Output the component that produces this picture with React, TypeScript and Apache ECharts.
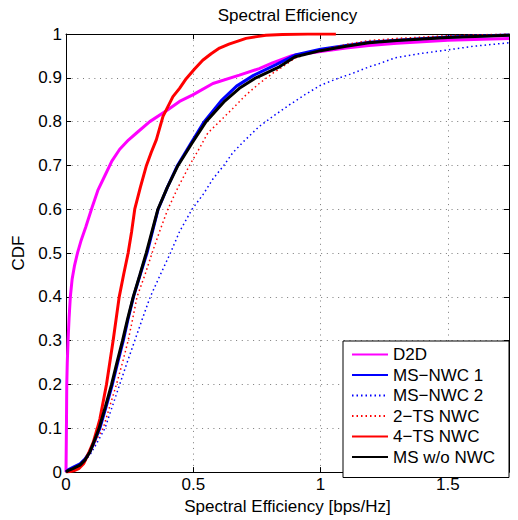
import React, { useEffect, useRef } from "react";
import * as echarts from "echarts";

// ---- Data ----
const seriesNames = ["D2D", "MS\u2212NWC 1", "MS\u2212NWC 2", "2\u2212TS NWC", "4\u2212TS NWC", "MS w/o NWC"];

const d2dX = [0, 0.002, 0.003, 0.005, 0.008, 0.012, 0.017, 0.024, 0.033, 0.045, 0.06, 0.078, 0.1, 0.125, 0.153, 0.18, 0.211, 0.245, 0.277, 0.329, 0.4, 0.446, 0.498, 0.577, 0.681, 0.759, 0.811, 0.89, 1.0, 1.1, 1.19, 1.3, 1.5, 1.74];
const d2dY = [0, 0.12, 0.2, 0.25, 0.3, 0.35, 0.4, 0.44, 0.47, 0.5, 0.53, 0.56, 0.6, 0.643, 0.677, 0.71, 0.737, 0.758, 0.774, 0.8, 0.827, 0.846, 0.861, 0.887, 0.906, 0.921, 0.934, 0.951, 0.96, 0.968, 0.974, 0.979, 0.986, 0.99];

const msNwc1X = [0, 0.01, 0.027, 0.055, 0.075, 0.094, 0.112, 0.133, 0.158, 0.182, 0.203, 0.225, 0.244, 0.265, 0.291, 0.318, 0.34, 0.362, 0.398, 0.438, 0.49, 0.543, 0.61, 0.67, 0.735, 0.825, 0.9, 1.0, 1.1, 1.19, 1.3, 1.5, 1.74];
const msNwc1Y = [0, 0.006, 0.011, 0.019, 0.03, 0.046, 0.07, 0.1, 0.15, 0.2, 0.25, 0.3, 0.35, 0.4, 0.45, 0.5, 0.55, 0.6, 0.65, 0.7, 0.75, 0.8, 0.848, 0.881, 0.905, 0.93, 0.952, 0.965, 0.974, 0.981, 0.986, 0.993, 0.998];

const msNwc2X = [0, 0.02, 0.04, 0.06, 0.08, 0.1, 0.12, 0.153, 0.182, 0.211, 0.24, 0.27, 0.3, 0.331, 0.37, 0.41, 0.446, 0.495, 0.54, 0.577, 0.62, 0.655, 0.7, 0.759, 0.82, 0.877, 0.94, 1.0, 1.06, 1.125, 1.19, 1.229, 1.294, 1.4, 1.503, 1.6, 1.74];
const msNwc2Y = [0, 0.003, 0.008, 0.015, 0.028, 0.045, 0.065, 0.1, 0.15, 0.2, 0.25, 0.3, 0.35, 0.4, 0.45, 0.5, 0.549, 0.6, 0.635, 0.669, 0.7, 0.729, 0.756, 0.789, 0.815, 0.838, 0.862, 0.883, 0.897, 0.91, 0.925, 0.932, 0.946, 0.956, 0.964, 0.972, 0.98];

const ts2X = [0, 0.02, 0.04, 0.06, 0.08, 0.1, 0.12, 0.146, 0.172, 0.198, 0.222, 0.244, 0.262, 0.279, 0.31, 0.338, 0.368, 0.4, 0.44, 0.485, 0.525, 0.557, 0.603, 0.655, 0.707, 0.759, 0.811, 0.85, 0.9, 1.0, 1.1, 1.19, 1.3, 1.5, 1.74];
const ts2Y = [0, 0.002, 0.006, 0.014, 0.03, 0.05, 0.075, 0.1, 0.15, 0.2, 0.25, 0.3, 0.35, 0.4, 0.45, 0.5, 0.55, 0.6, 0.65, 0.7, 0.74, 0.774, 0.8, 0.83, 0.861, 0.887, 0.91, 0.925, 0.945, 0.963, 0.976, 0.985, 0.99, 0.996, 1.0];

const ts4X = [0, 0.01, 0.03, 0.05, 0.07, 0.09, 0.107, 0.123, 0.133, 0.159, 0.185, 0.209, 0.226, 0.244, 0.258, 0.27, 0.292, 0.316, 0.335, 0.355, 0.381, 0.42, 0.446, 0.472, 0.505, 0.537, 0.57, 0.603, 0.64, 0.681, 0.707, 0.75, 0.785, 0.85, 0.95, 1.06];
const ts4Y = [0, 0.001, 0.003, 0.008, 0.02, 0.045, 0.068, 0.1, 0.121, 0.2, 0.3, 0.4, 0.45, 0.5, 0.55, 0.6, 0.65, 0.7, 0.73, 0.759, 0.812, 0.857, 0.876, 0.898, 0.92, 0.94, 0.955, 0.968, 0.977, 0.985, 0.99, 0.994, 0.997, 0.999, 1.0, 1.0];

const msNoX = [0, 0.01, 0.027, 0.055, 0.075, 0.094, 0.11, 0.13, 0.155, 0.179, 0.2, 0.222, 0.242, 0.264, 0.29, 0.315, 0.338, 0.361, 0.398, 0.44, 0.494, 0.55, 0.62, 0.681, 0.746, 0.838, 0.9, 1.0, 1.1, 1.19, 1.3, 1.5, 1.74];
const msNoY = [0, 0.004, 0.008, 0.016, 0.028, 0.046, 0.07, 0.1, 0.15, 0.2, 0.25, 0.3, 0.35, 0.4, 0.45, 0.5, 0.55, 0.6, 0.65, 0.7, 0.75, 0.8, 0.845, 0.876, 0.9, 0.925, 0.948, 0.962, 0.972, 0.98, 0.985, 0.992, 0.997];

const xTicks = [0, 0.5, 1, 1.5];
const xMax = 1.74;

const zip = (xs: number[], ys: number[]) => xs.map((x, i) => [x, ys[i]]);

const FONT = "'Liberation Sans', Arial, Helvetica, sans-serif";
const FS = 17;

export default function App() {
  const ref = useRef<HTMLDivElement>(null);

  useEffect(() => {
    if (!ref.current) return;
    const chart = echarts.init(ref.current, undefined, { renderer: "svg" });

    const dotted = [1.5, 3];
    const mk = (name: string, data: number[][], color: string, width: number, type: any) => ({
      name,
      type: "line",
      data,
      symbol: "none",
      showSymbol: false,
      smooth: false,
      lineStyle: { color, width, type },
      itemStyle: { color },
    });

    const gridLine = { show: true, lineStyle: { color: "#7a7a7a", width: 1, type: [1, 4.67] } };

    chart.setOption({
      animation: false,
      backgroundColor: "#fff",
      textStyle: { fontFamily: FONT },
      grid: { left: 66, right: 9, top: 34, bottom: 43, containLabel: false },
      graphic: [
        {
          type: "text",
          x: 287.5,
          y: 15,
          style: {
            text: "Spectral Efficiency",
            fontSize: FS,
            fontFamily: FONT,
            fill: "#000",
            align: "center",
            verticalAlign: "middle",
          },
        },
      ],
      legend: {
        data: seriesNames,
        orient: "vertical",
        left: 343,
        top: 341,
        backgroundColor: "#fff",
        borderColor: "#000",
        borderWidth: 1,
        borderRadius: 0,
        padding: [5, 14, 12, 8],
        itemWidth: 36,
        itemHeight: 14,
        itemGap: 3.5,
        itemStyle: { opacity: 0 },
        textStyle: { fontSize: FS, color: "#000", fontFamily: FONT, lineHeight: 16 },
      },
      xAxis: [
        {
          type: "value",
          position: "bottom",
          min: 0,
          max: xMax,
          interval: 0.5,
          name: "Spectral Efficiency [bps/Hz]",
          nameLocation: "middle",
          nameGap: 20,
          nameTextStyle: { fontSize: FS, color: "#000", fontFamily: FONT },
          axisLine: { show: true, onZero: false, lineStyle: { color: "#000", width: 1 } },
          axisTick: { show: true, inside: true, length: 5, lineStyle: { color: "#000" } },
          axisLabel: {
            fontSize: FS,
            color: "#000",
            margin: 4,
            showMaxLabel: false,
            formatter: (v: number) => (xTicks.some((t) => Math.abs(t - v) < 1e-9) ? String(v) : ""),
          },
          splitLine: gridLine,
        },
        {
          type: "value",
          position: "top",
          min: 0,
          max: xMax,
          interval: 0.5,
          axisLine: { show: true, onZero: false, lineStyle: { color: "#000", width: 1 } },
          axisTick: { show: true, inside: true, length: 5, lineStyle: { color: "#000" } },
          axisLabel: { show: false },
          splitLine: { show: false },
        },
      ],
      yAxis: [
        {
          type: "value",
          position: "left",
          min: 0,
          max: 1,
          interval: 0.1,
          name: "CDF",
          nameLocation: "middle",
          nameGap: 35,
          nameTextStyle: { fontSize: FS, color: "#000", fontFamily: FONT },
          axisLine: { show: true, onZero: false, lineStyle: { color: "#000", width: 1 } },
          axisTick: { show: true, inside: true, length: 5, lineStyle: { color: "#000" } },
          axisLabel: {
            fontSize: FS,
            color: "#000",
            margin: 4,
            formatter: (v: number) => String(Math.round(v * 10) / 10),
          },
          splitLine: gridLine,
        },
        {
          type: "value",
          position: "right",
          min: 0,
          max: 1,
          interval: 0.1,
          axisLine: { show: true, onZero: false, lineStyle: { color: "#000", width: 1 } },
          axisTick: { show: true, inside: true, length: 5, lineStyle: { color: "#000" } },
          axisLabel: { show: false },
          splitLine: { show: false },
        },
      ],
      series: [
        mk(seriesNames[0], zip(d2dX, d2dY), "#ff00ff", 3, "solid"),
        mk(seriesNames[1], zip(msNwc1X, msNwc1Y), "#0000ff", 3, "solid"),
        mk(seriesNames[2], zip(msNwc2X, msNwc2Y), "#0000ff", 1.5, dotted),
        mk(seriesNames[3], zip(ts2X, ts2Y), "#ff0000", 1.5, dotted),
        mk(seriesNames[4], zip(ts4X, ts4Y), "#ff0000", 3, "solid"),
        mk(seriesNames[5], zip(msNoX, msNoY), "#000000", 3, "solid"),
      ],
    });

    return () => {
      chart.dispose();
    };
  }, []);

  return (
    <div
      ref={ref}
      style={{ position: "absolute", left: 0, top: 0, width: 518, height: 520, background: "#fff" }}
    />
  );
}
